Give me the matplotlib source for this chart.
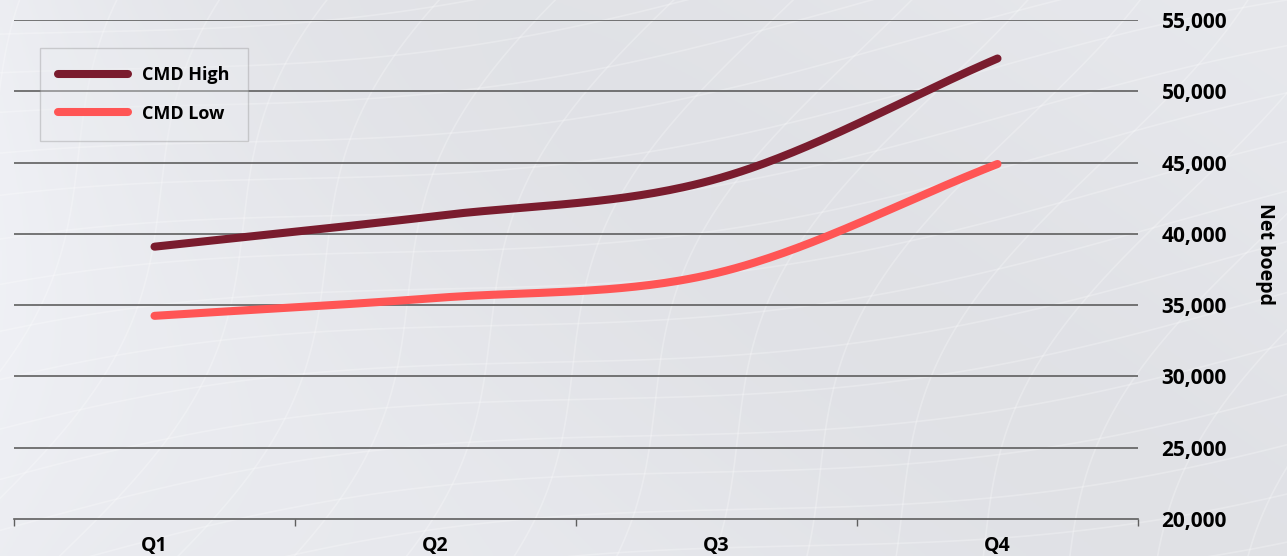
import numpy as np
import matplotlib
matplotlib.use("Agg")
import matplotlib.pyplot as plt
from matplotlib.lines import Line2D

# ---- data ----
quarters = ["Q1", "Q2", "Q3", "Q4"]
cmd_high = [39100, 41250, 43850, 52300]
cmd_low = [34250, 35500, 37250, 44900]
y_ticks = [20000, 25000, 30000, 35000, 40000, 45000, 50000, 55000]

HIGH_COLOR = "#7a1c2e"
LOW_COLOR = "#ff5555"
FONT = "Open Sans"


def smooth(xs, ys, n=60):
    """Catmull-Rom curve through the given points (spreadsheet-style smoothing)."""
    xs = np.asarray(xs, float)
    ys = np.asarray(ys, float)
    px = np.concatenate([[2 * xs[0] - xs[1]], xs, [2 * xs[-1] - xs[-2]]])
    py = np.concatenate([[2 * ys[0] - ys[1]], ys, [2 * ys[-1] - ys[-2]]])
    out_x, out_y = [], []
    t = np.linspace(0, 1, n)
    for i in range(1, len(px) - 2):
        for p, out in ((px, out_x), (py, out_y)):
            p0, p1, p2, p3 = p[i - 1], p[i], p[i + 1], p[i + 2]
            seg = 0.5 * ((2 * p1) + (-p0 + p2) * t
                         + (2 * p0 - 5 * p1 + 4 * p2 - p3) * t ** 2
                         + (-p0 + 3 * p1 - 3 * p2 + p3) * t ** 3)
            out.extend(seg if i == 1 else seg[1:])
    return np.array(out_x), np.array(out_y)


fig = plt.figure(figsize=(12.87, 5.56), dpi=100)

# soft grey backdrop with a faint woven mesh
bg = fig.add_axes([0, 0, 1, 1], zorder=-5)
gx, gy = np.meshgrid(np.linspace(0, 1, 400), np.linspace(0, 1, 200))
shade = 0.895 + 0.035 * np.exp(-gx * 6) + 0.012 * np.sin(gx * 5 + gy * 3)
bg.imshow(np.dstack([shade * 0.995, shade * 1.0, shade * 1.02]).clip(0, 1),
          extent=[0, 1, 0, 1], aspect="auto", origin="lower")
s = np.linspace(-0.2, 1.2, 300)
for k in np.linspace(-0.6, 1.4, 26):
    bg.plot(s, k + 0.35 * s + 0.05 * np.sin(s * 6 + k * 3), color="white", lw=1.2, alpha=0.25)
    bg.plot(k + 0.25 * s + 0.04 * np.sin(s * 5 + k * 4), s, color="white", lw=1.2, alpha=0.25)
bg.set_xlim(0, 1)
bg.set_ylim(0, 1)
bg.axis("off")

ax = fig.add_axes([14 / 1287, 37 / 556, (1138 - 14) / 1287, (519 - 20) / 556])
ax.set_facecolor("none")

x = np.arange(len(quarters))
hx, hy = smooth(x, cmd_high)
lx, ly = smooth(x, cmd_low)
ax.plot(hx, hy, color=HIGH_COLOR, lw=5.8, solid_capstyle="round", zorder=3)
ax.plot(lx, ly, color=LOW_COLOR, lw=5.8, solid_capstyle="round", zorder=3)

ax.set_xlim(-0.5, len(quarters) - 0.5)
ax.set_ylim(20000, 55000)

# horizontal gridlines
for v in y_ticks[1:]:
    ax.axhline(v, color="#5f5f5f", lw=1.2, zorder=1)

for side in ("left", "right", "top"):
    ax.spines[side].set_visible(False)
ax.spines["bottom"].set_color("#5f5f5f")
ax.spines["bottom"].set_linewidth(1.2)

# category boundary ticks on x, labels centred on each quarter
ax.set_xticks(np.arange(-0.5, len(quarters)), minor=False)
ax.set_xticklabels([])
ax.tick_params(axis="x", direction="out", length=5, width=1, color="#5f5f5f")
ax.set_xticks(x, minor=True)
ax.set_xticklabels(quarters, minor=True, fontsize=14, fontweight="bold", family=FONT)
ax.tick_params(axis="x", which="minor", length=0, pad=12)

ax.yaxis.tick_right()
ax.set_yticks(y_ticks)
ax.set_yticklabels([f"{v:,}" for v in y_ticks], fontsize=15, fontweight="bold", family=FONT)
ax.tick_params(axis="y", length=0, pad=17)
ax.set_ylabel("Net boepd", rotation=-90, fontsize=14, fontweight="bold", family=FONT,
              va="center", ha="center")
ax.yaxis.set_label_coords((1265 - 14) / 1124, (519 - 254) / 499)

handles = [Line2D([], [], color=HIGH_COLOR, lw=5.8, solid_capstyle="round"),
           Line2D([], [], color=LOW_COLOR, lw=5.8, solid_capstyle="round")]
leg = ax.legend(handles, ["CMD High", "CMD Low"], loc="upper left",
                bbox_to_anchor=(26 / 1124, 1 - 28 / 499), frameon=True, fancybox=False,
                prop={"family": FONT, "weight": "bold", "size": 13},
                handlelength=3.9, handletextpad=0.75, borderpad=1.0, labelspacing=1.14,
                borderaxespad=0)
leg.get_frame().set_edgecolor("#8a8a8a")
leg.get_frame().set_facecolor("#eceef1")
leg.get_frame().set_alpha(0.35)
leg.get_frame().set_linewidth(1.0)

fig.savefig("out.png", dpi=100)
